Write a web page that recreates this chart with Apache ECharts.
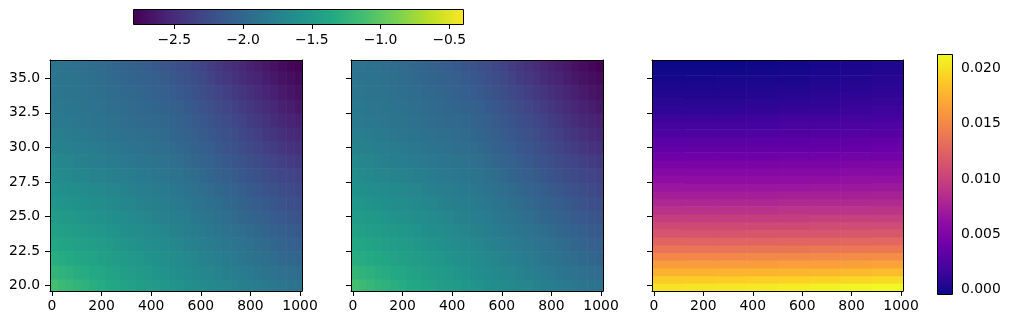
<!DOCTYPE html>
<html><head><meta charset="utf-8">
<script src="https://cdn.jsdelivr.net/npm/echarts@6/dist/echarts.min.js"></script>
<style>html,body{margin:0;padding:0;background:#fff}#c{width:1011px;height:325px}</style>
</head><body><div id="c"></div>
<script>
// ---------------- data ----------------
const xTickValues = [0, 200, 400, 600, 800, 1000];
const yTickValues = [20, 22.5, 25, 27.5, 30, 32.5, 35];
const cbTopTicks = [-2.5, -2.0, -1.5, -1.0, -0.5];
const cbRightTicks = [0, 0.005, 0.010, 0.015, 0.020];

const fieldRange = [-2.8, -0.4];
const diffRange = [-0.0004, 0.0213];

// cell centres (x) and rows (y) of the two log fields
const fieldX = [8, 40, 71, 103, 135, 167, 198, 230, 262, 294, 325, 357, 389, 421, 452, 484,
                516, 548, 579, 611, 643, 675, 706, 738, 770, 802, 833, 865, 897, 928, 960, 992];
const fieldY = [20, 21, 22, 23, 24, 25, 26, 27, 28, 29, 30, 31, 32, 33, 34, 35, 36];
// rows from y=20 (bottom) to y=36 (top)
const panel1Values = [
  [-1.13,-1.18,-1.21,-1.25,-1.27,-1.30,-1.33,-1.36,-1.38,-1.41,-1.43,-1.46,-1.48,-1.51,-1.54,-1.56,-1.59,-1.61,-1.64,-1.66,-1.68,-1.70,-1.72,-1.74,-1.77,-1.79,-1.81,-1.83,-1.84,-1.86,-1.88,-1.90],
  [-1.23,-1.26,-1.28,-1.31,-1.33,-1.36,-1.38,-1.41,-1.43,-1.46,-1.48,-1.51,-1.53,-1.56,-1.58,-1.61,-1.63,-1.66,-1.68,-1.71,-1.72,-1.74,-1.77,-1.79,-1.81,-1.83,-1.86,-1.88,-1.90,-1.92,-1.94,-1.96],
  [-1.31,-1.33,-1.35,-1.37,-1.39,-1.41,-1.44,-1.46,-1.48,-1.50,-1.53,-1.55,-1.58,-1.60,-1.62,-1.64,-1.67,-1.69,-1.72,-1.74,-1.76,-1.78,-1.81,-1.83,-1.86,-1.88,-1.91,-1.93,-1.96,-1.98,-2.00,-2.02],
  [-1.37,-1.39,-1.41,-1.43,-1.45,-1.47,-1.49,-1.51,-1.54,-1.56,-1.58,-1.60,-1.62,-1.64,-1.66,-1.68,-1.71,-1.73,-1.76,-1.78,-1.81,-1.83,-1.85,-1.87,-1.90,-1.92,-1.95,-1.97,-2.00,-2.03,-2.06,-2.08],
  [-1.43,-1.45,-1.47,-1.49,-1.51,-1.53,-1.55,-1.57,-1.59,-1.61,-1.63,-1.65,-1.67,-1.69,-1.71,-1.73,-1.75,-1.78,-1.80,-1.82,-1.85,-1.87,-1.90,-1.92,-1.94,-1.97,-2.00,-2.03,-2.06,-2.08,-2.11,-2.13],
  [-1.49,-1.51,-1.52,-1.54,-1.56,-1.58,-1.60,-1.62,-1.63,-1.65,-1.67,-1.69,-1.71,-1.73,-1.75,-1.77,-1.79,-1.81,-1.84,-1.86,-1.89,-1.91,-1.94,-1.97,-2.00,-2.02,-2.05,-2.08,-2.11,-2.13,-2.16,-2.19],
  [-1.55,-1.57,-1.58,-1.60,-1.61,-1.63,-1.64,-1.66,-1.68,-1.70,-1.71,-1.73,-1.75,-1.77,-1.78,-1.80,-1.82,-1.85,-1.88,-1.90,-1.93,-1.95,-1.98,-2.01,-2.04,-2.07,-2.10,-2.13,-2.16,-2.19,-2.22,-2.24],
  [-1.60,-1.62,-1.63,-1.65,-1.66,-1.68,-1.69,-1.71,-1.72,-1.74,-1.76,-1.78,-1.79,-1.81,-1.82,-1.84,-1.86,-1.89,-1.92,-1.94,-1.97,-2.00,-2.03,-2.06,-2.09,-2.12,-2.15,-2.18,-2.21,-2.24,-2.27,-2.29],
  [-1.65,-1.67,-1.68,-1.70,-1.71,-1.73,-1.74,-1.76,-1.77,-1.79,-1.80,-1.82,-1.83,-1.85,-1.86,-1.88,-1.90,-1.93,-1.96,-1.99,-2.02,-2.05,-2.08,-2.11,-2.14,-2.18,-2.21,-2.24,-2.27,-2.29,-2.32,-2.34],
  [-1.69,-1.71,-1.72,-1.74,-1.75,-1.77,-1.78,-1.80,-1.81,-1.83,-1.84,-1.86,-1.87,-1.89,-1.90,-1.92,-1.94,-1.97,-2.00,-2.03,-2.06,-2.09,-2.13,-2.16,-2.19,-2.23,-2.26,-2.29,-2.32,-2.35,-2.38,-2.40],
  [-1.74,-1.75,-1.76,-1.78,-1.79,-1.81,-1.82,-1.84,-1.85,-1.87,-1.88,-1.90,-1.91,-1.93,-1.94,-1.96,-1.98,-2.01,-2.04,-2.07,-2.10,-2.14,-2.17,-2.21,-2.24,-2.28,-2.31,-2.35,-2.38,-2.42,-2.45,-2.47],
  [-1.78,-1.79,-1.80,-1.82,-1.83,-1.85,-1.86,-1.88,-1.89,-1.91,-1.92,-1.93,-1.94,-1.96,-1.97,-2.00,-2.02,-2.05,-2.08,-2.11,-2.14,-2.18,-2.21,-2.25,-2.29,-2.33,-2.36,-2.40,-2.44,-2.48,-2.51,-2.53],
  [-1.82,-1.83,-1.84,-1.85,-1.86,-1.88,-1.89,-1.91,-1.92,-1.94,-1.95,-1.97,-1.98,-1.99,-2.00,-2.03,-2.05,-2.08,-2.11,-2.14,-2.18,-2.22,-2.25,-2.29,-2.33,-2.37,-2.41,-2.45,-2.49,-2.53,-2.56,-2.58],
  [-1.84,-1.85,-1.86,-1.87,-1.88,-1.90,-1.91,-1.93,-1.94,-1.96,-1.97,-1.99,-2.00,-2.02,-2.04,-2.06,-2.08,-2.12,-2.15,-2.19,-2.23,-2.27,-2.30,-2.34,-2.38,-2.42,-2.46,-2.50,-2.54,-2.58,-2.61,-2.64],
  [-1.86,-1.87,-1.88,-1.89,-1.90,-1.92,-1.93,-1.95,-1.96,-1.98,-1.99,-2.01,-2.03,-2.06,-2.08,-2.10,-2.13,-2.16,-2.20,-2.24,-2.28,-2.32,-2.36,-2.40,-2.44,-2.48,-2.51,-2.55,-2.59,-2.63,-2.66,-2.69],
  [-1.87,-1.88,-1.89,-1.90,-1.92,-1.93,-1.95,-1.97,-1.99,-2.01,-2.02,-2.04,-2.06,-2.08,-2.11,-2.14,-2.17,-2.21,-2.24,-2.28,-2.33,-2.37,-2.41,-2.45,-2.49,-2.53,-2.56,-2.60,-2.64,-2.68,-2.71,-2.74],
  [-1.89,-1.90,-1.91,-1.92,-1.94,-1.95,-1.97,-1.99,-2.01,-2.03,-2.05,-2.08,-2.10,-2.13,-2.16,-2.19,-2.22,-2.25,-2.29,-2.33,-2.38,-2.42,-2.46,-2.50,-2.54,-2.58,-2.61,-2.65,-2.69,-2.73,-2.77,-2.80]
];
// second panel reads the same as the first at this precision
const panel2Values = panel1Values.map(row => row.slice());

// difference panel
const diffX = [55.6, 182.6, 309.5, 436.5, 563.5, 690.5, 817.4, 944.4];
const diffY = [19.90, 20.46, 21.01, 21.57, 22.13, 22.69, 23.24, 23.80, 24.36, 24.91, 25.47, 26.03, 26.58, 27.14, 27.70,
               28.26, 28.81, 29.37, 29.93, 30.48, 31.04, 31.60, 32.16, 32.71, 33.27, 33.83, 34.38, 34.94, 35.50, 36.05];
const diffValues = [
  [0.0202,0.0203,0.0204,0.0205,0.0207,0.0209,0.0211,0.0213],
  [0.0190,0.0190,0.0191,0.0192,0.0193,0.0194,0.0196,0.0198],
  [0.0176,0.0176,0.0177,0.0177,0.0178,0.0179,0.0180,0.0182],
  [0.0163,0.0163,0.0163,0.0164,0.0165,0.0165,0.0166,0.0167],
  [0.0150,0.0150,0.0150,0.0151,0.0151,0.0152,0.0153,0.0154],
  [0.0137,0.0137,0.0137,0.0138,0.0138,0.0139,0.0139,0.0140],
  [0.0126,0.0126,0.0126,0.0126,0.0127,0.0127,0.0128,0.0128],
  [0.0115,0.0115,0.0115,0.0116,0.0116,0.0116,0.0117,0.0117],
  [0.0107,0.0107,0.0107,0.0107,0.0107,0.0108,0.0108,0.0108],
  [0.0098,0.0098,0.0098,0.0098,0.0098,0.0099,0.0099,0.0099],
  [0.0089,0.0089,0.0089,0.0089,0.0090,0.0090,0.0090,0.0091],
  [0.0081,0.0081,0.0081,0.0081,0.0082,0.0082,0.0082,0.0083],
  [0.0074,0.0074,0.0074,0.0074,0.0075,0.0075,0.0075,0.0076],
  [0.0068,0.0068,0.0068,0.0068,0.0068,0.0069,0.0069,0.0070],
  [0.0061,0.0061,0.0061,0.0061,0.0062,0.0062,0.0063,0.0063],
  [0.0055,0.0055,0.0055,0.0055,0.0056,0.0056,0.0057,0.0057],
  [0.0048,0.0048,0.0048,0.0048,0.0049,0.0049,0.0050,0.0051],
  [0.0042,0.0042,0.0042,0.0042,0.0043,0.0043,0.0044,0.0045],
  [0.0035,0.0035,0.0035,0.0036,0.0036,0.0037,0.0038,0.0039],
  [0.0031,0.0031,0.0031,0.0031,0.0032,0.0033,0.0034,0.0035],
  [0.0024,0.0024,0.0024,0.0025,0.0026,0.0027,0.0028,0.0029],
  [0.0020,0.0020,0.0020,0.0021,0.0022,0.0023,0.0024,0.0025],
  [0.0016,0.0016,0.0016,0.0017,0.0018,0.0019,0.0020,0.0021],
  [0.0011,0.0011,0.0011,0.0012,0.0013,0.0014,0.0016,0.0017],
  [0.0008,0.0008,0.0008,0.0009,0.0010,0.0011,0.0013,0.0014],
  [0.0005,0.0005,0.0005,0.0006,0.0007,0.0008,0.0010,0.0011],
  [0.0003,0.0003,0.0003,0.0004,0.0005,0.0006,0.0007,0.0009],
  [0.0000,0.0000,0.0001,0.0001,0.0002,0.0004,0.0005,0.0007],
  [-0.0002,-0.0002,-0.0002,-0.0001,0.0000,0.0002,0.0003,0.0005],
  [-0.0004,-0.0004,-0.0004,-0.0003,-0.0002,0.0000,0.0002,0.0004]
];

// ---------------- styling ----------------
const viridis = ['#440154','#482475','#414487','#355f8d','#2a788e','#21918c','#22a884','#44bf70','#7ad151','#bddf26','#fde725'];
const plasma = ['#0d0887','#41049d','#6a00a8','#8f0da4','#b12a90','#cc4778','#e16462','#f2844b','#fca636','#fcce25','#f0f921'];
const FONT = "'DejaVu Sans'";
const FS = 13.9;
const X_EXTENT = [-7.9, 1007.9];
const Y_EXTENT = [19.62, 36.32];

const chart = echarts.init(document.getElementById('c'), null, {renderer: 'canvas'});

function toTriples(xs, ys, rows) {
  const out = [];
  rows.forEach((row, i) => row.forEach((v, j) => out.push([xs[j], ys[i], v])));
  return out;
}
function cellRenderer(dx, dy) {
  return function (params, api) {
    const x = api.value(0), y = api.value(1);
    const p0 = api.coord([x - dx / 2, y + dy / 2]);
    const p1 = api.coord([x + dx / 2, y - dy / 2]);
    const cs = params.coordSys;
    const r = echarts.graphic.clipRectByRect(
      {x: p0[0], y: p0[1], width: p1[0] - p0[0] + 0.6, height: p1[1] - p0[1] + 0.6},
      {x: cs.x, y: cs.y, width: cs.width, height: cs.height});
    if (!r) return null;
    return {type: 'rect', shape: r, style: {fill: api.visual('color')}};
  };
}
function colorbarRenderer(colors, horizontal) {
  return function (params, api) {
    const p0 = api.coord([api.value(0), api.value(3)]);
    const p1 = api.coord([api.value(2), api.value(1)]);
    const stops = colors.map((c, i) => ({offset: i / (colors.length - 1), color: c}));
    const grad = horizontal ? new echarts.graphic.LinearGradient(0, 0, 1, 0, stops)
                            : new echarts.graphic.LinearGradient(0, 1, 0, 0, stops);
    const x = Math.round(p0[0]) + 0.5, y = Math.round(p0[1]) + 0.5;
    const w = Math.round(p1[0] - p0[0]), h = Math.round(p1[1] - p0[1]);
    return {type: 'group', children: [
      {type: 'rect', shape: {x: x, y: y, width: w, height: h}, style: {fill: grad}},
      {type: 'rect', shape: {x: x, y: y, width: w, height: h}, style: {fill: null, stroke: '#000', lineWidth: 1}}
    ]};
  };
}

const plotGrids = [
  {left: 50, top: 60, width: 252, height: 231},
  {left: 351, top: 60, width: 252, height: 231},
  {left: 652, top: 60, width: 251, height: 231}
];
const grids = plotGrids.concat([
  {left: 133, top: 9, width: 330, height: 15},
  {left: 937, top: 54, width: 15, height: 240}
]);

const xAxes = [], yAxes = [];
plotGrids.forEach((g, i) => {
  xAxes.push({type: 'value', gridIndex: i, min: X_EXTENT[0], max: X_EXTENT[1], position: 'bottom', z: 5,
    axisLine: {show: true, onZero: false, lineStyle: {color: '#000', width: 1}},
    axisTick: {show: true, inside: false, length: 5, lineStyle: {color: '#000'}, customValues: xTickValues},
    axisLabel: {show: true, margin: 8, color: '#000', fontFamily: FONT, fontSize: FS, customValues: xTickValues,
      formatter: v => String(v)},
    splitLine: {show: false}});
  xAxes.push({type: 'value', gridIndex: i, min: X_EXTENT[0], max: X_EXTENT[1], position: 'top', z: 5,
    axisLine: {show: true, onZero: false, lineStyle: {color: '#000', width: 1}},
    axisTick: {show: false}, axisLabel: {show: false}, splitLine: {show: false}});
  yAxes.push({type: 'value', gridIndex: i, min: Y_EXTENT[0], max: Y_EXTENT[1], position: 'left', z: 5,
    axisLine: {show: true, onZero: false, lineStyle: {color: '#000', width: 1}},
    axisTick: {show: true, inside: false, length: 5, lineStyle: {color: '#000'}, customValues: yTickValues},
    axisLabel: {show: i === 0, margin: 10, color: '#000', fontFamily: FONT, fontSize: FS, customValues: yTickValues,
      formatter: v => v.toFixed(1)},
    splitLine: {show: false}});
  yAxes.push({type: 'value', gridIndex: i, min: Y_EXTENT[0], max: Y_EXTENT[1], position: 'right', z: 5,
    axisLine: {show: true, onZero: false, lineStyle: {color: '#000', width: 1}},
    axisTick: {show: false}, axisLabel: {show: false}, splitLine: {show: false}});
});
xAxes.push({type: 'value', gridIndex: 3, min: fieldRange[0], max: fieldRange[1], position: 'bottom',
  axisLine: {show: false}, splitLine: {show: false},
  axisTick: {show: true, length: 5, lineStyle: {color: '#000'}, customValues: cbTopTicks},
  axisLabel: {margin: 9, color: '#000', fontFamily: FONT, fontSize: FS, customValues: cbTopTicks,
    formatter: v => (v < 0 ? '\u2212' : '') + Math.abs(v).toFixed(1)}});
yAxes.push({type: 'value', gridIndex: 3, min: 0, max: 1, show: false});
xAxes.push({type: 'value', gridIndex: 4, min: 0, max: 1, show: false});
yAxes.push({type: 'value', gridIndex: 4, min: diffRange[0], max: diffRange[1], position: 'right',
  axisLine: {show: false}, splitLine: {show: false},
  axisTick: {show: true, length: 5, lineStyle: {color: '#000'}, customValues: cbRightTicks},
  axisLabel: {margin: 9, color: '#000', fontFamily: FONT, fontSize: FS, customValues: cbRightTicks,
    formatter: v => v.toFixed(3)}});

const fdx = fieldX[1] - fieldX[0], fdy = fieldY[1] - fieldY[0];
const ddx = diffX[1] - diffX[0], ddy = diffY[1] - diffY[0];

const option = {
  animation: false,
  backgroundColor: '#fff',
  grid: grids,
  xAxis: xAxes,
  yAxis: yAxes,
  visualMap: [
    {type: 'continuous', show: false, seriesIndex: [0, 1], dimension: 2, min: fieldRange[0], max: fieldRange[1], inRange: {color: viridis}},
    {type: 'continuous', show: false, seriesIndex: [2], dimension: 2, min: diffRange[0], max: diffRange[1], inRange: {color: plasma}}
  ],
  series: [
    {type: 'custom', xAxisIndex: 0, yAxisIndex: 0, data: toTriples(fieldX, fieldY, panel1Values),
      renderItem: cellRenderer(fdx, fdy), encode: {x: 0, y: 1}, clip: true, silent: true},
    {type: 'custom', xAxisIndex: 2, yAxisIndex: 2, data: toTriples(fieldX, fieldY, panel2Values),
      renderItem: cellRenderer(fdx, fdy), encode: {x: 0, y: 1}, clip: true, silent: true},
    {type: 'custom', xAxisIndex: 4, yAxisIndex: 4, data: toTriples(diffX, diffY, diffValues),
      renderItem: cellRenderer(ddx, ddy), encode: {x: 0, y: 1}, clip: true, silent: true},
    {type: 'custom', xAxisIndex: 6, yAxisIndex: 6, data: [[fieldRange[0], 0, fieldRange[1], 1]],
      renderItem: colorbarRenderer(viridis, true), encode: {x: [0, 2], y: [1, 3]}, silent: true},
    {type: 'custom', xAxisIndex: 7, yAxisIndex: 7, data: [[0, diffRange[0], 1, diffRange[1]]],
      renderItem: colorbarRenderer(plasma, false), encode: {x: [0, 2], y: [1, 3]}, silent: true}
  ]
};
chart.setOption(option);
</script>
</body></html>
